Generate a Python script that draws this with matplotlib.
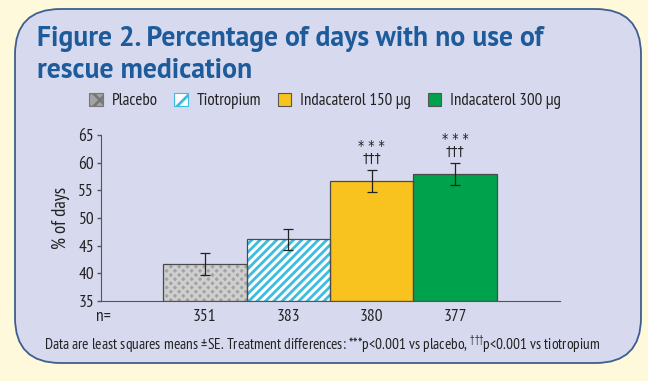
import matplotlib
matplotlib.use("Agg")
import matplotlib.pyplot as plt
from matplotlib.patches import FancyBboxPatch, Patch
import numpy as np

categories = ["Placebo", "Tiotropium", "Indacaterol 150 µg", "Indacaterol 300 µg"]
values = [41.7, 46.15, 56.7, 57.95]
se = [2.0, 1.95, 2.0, 2.0]
n_values = ["351", "383", "380", "377"]
sig_labels = ["", "", "* * *\n†††", "* * *\n†††"]
yticks = [35, 40, 45, 50, 55, 60, 65]

plt.rcParams['font.family'] = ['PT Sans Narrow', 'DejaVu Sans']
plt.rcParams['mathtext.fontset'] = 'custom'
plt.rcParams['mathtext.rm'] = 'PT Sans Narrow'

W, H = 6.48, 3.81
fig = plt.figure(figsize=(W, H), dpi=100)
fig.patch.set_facecolor('#FFF9DC')

def fx(px):
    return px / 648.0
def fy(py):
    return 1 - py / 381.0

panel = FancyBboxPatch((fx(15), fy(363)), fx(641) - fx(15), fy(9) - fy(363),
                       boxstyle="round,pad=0,rounding_size=0.07",
                       transform=fig.transFigure, facecolor='#D7D9EE',
                       edgecolor='#3E5E8E', linewidth=1.3, zorder=-5,
                       mutation_aspect=648/381)
fig.patches.append(panel)

title_font = ['PT Sans', 'DejaVu Sans']
t1 = fig.text(fx(37), fy(46.5), "Figure 2. Percentage of days with no use of",
              fontsize=20, fontweight='bold', color='#1D5B9B', va='baseline', ha='left',
              family=title_font)
t2 = fig.text(fx(37), fy(78.5), "rescue medication",
              fontsize=20, fontweight='bold', color='#1D5B9B', va='baseline', ha='left',
              family=title_font)

ax = fig.add_axes([fx(101), fy(301), fx(560) - fx(101), fy(135) - fy(301)])
ax.set_facecolor('none')
ax.set_zorder(2)

x = np.arange(1, len(categories) + 1)
faces = ['#A3A3A3', 'white', '#F9C31F', '#00A24B']
hatch_colors = ['#CFCFCF', '#3DBCE0', None, None]
hatches = ['xxxx', '////', None, None]

plt.rcParams['hatch.linewidth'] = 2.0
for i in range(len(categories)):
    if hatches[i]:
        ax.bar(x[i], values[i] - 35, bottom=35, width=1.0, color=faces[i],
               hatch=hatches[i], edgecolor=hatch_colors[i], linewidth=0, zorder=2)
    else:
        ax.bar(x[i], values[i] - 35, bottom=35, width=1.0, color=faces[i],
               linewidth=0, zorder=2)
    ax.bar(x[i], values[i] - 35, bottom=35, width=1.0, facecolor='none',
           edgecolor='#4A4A4A', linewidth=0.9, zorder=3)

ax.errorbar(x, values, yerr=se, fmt='none', ecolor='#222222', elinewidth=0.9,
            capsize=3.5, capthick=0.9, zorder=4)

for i in range(len(categories)):
    if sig_labels[i]:
        ax.text(x[i], values[i] + se[i] + 0.8, sig_labels[i], ha='center', va='bottom',
                fontsize=10, color='#222222', linespacing=0.85,
                family=['DejaVu Sans'], stretch='condensed')

ax.set_xlim(-0.245, 5.257)
ax.set_ylim(35, 65)
ax.set_yticks(yticks)
ax.set_yticklabels([str(t) for t in yticks], fontsize=12.5, color='#222222')
ax.set_xticks([])
for s in ['top', 'right']:
    ax.spines[s].set_visible(False)
ax.spines['left'].set_color('#555555')
ax.spines['bottom'].set_color('#555555')
ax.tick_params(axis='y', direction='out', length=3, width=1, color='#555555', pad=2)
ax.set_ylabel("% of days", fontsize=13.5, color='#222222', labelpad=6)

ax.text(-0.3, 33.5, "n=", ha='left', va='top', fontsize=12.5,
        color='#222222', clip_on=False)
for i in range(len(categories)):
    ax.text(x[i], 33.5, n_values[i], ha='center', va='top', fontsize=12.5,
            color='#222222', clip_on=False)

legend_edges = ['#777777', '#3DBCE0', '#555555', '#555555']
legend_hatch = ['xx', '//', None, None]
handles = [Patch(facecolor=faces[i], edgecolor=legend_edges[i],
                 hatch=legend_hatch[i], linewidth=0.8) for i in range(len(categories))]
leg = fig.legend(handles, categories, loc='center', bbox_to_anchor=(fx(325), fy(101)),
                 ncol=4, frameon=False, fontsize=12.2, handlelength=0.8,
                 handleheight=0.8, handletextpad=0.5, columnspacing=1.0)
for t in leg.get_texts():
    t.set_color('#222222')

foot = fig.text(fx(322), fy(344),
                "Data are least squares means \u00b1SE. Treatment differences: ***p<0.001 vs placebo, "
                "$^{\u2020\u2020\u2020}$p<0.001 vs tiotropium",
                ha='center', va='center', fontsize=10.5, color='#222222')

# fit text widths to the reference layout
fig.canvas.draw()
r = fig.canvas.get_renderer()
w1 = t1.get_window_extent(r).width
s = 20 * 506.0 / w1
t1.set_fontsize(s)
t2.set_fontsize(s)
wf = foot.get_window_extent(r).width
foot.set_fontsize(10.5 * 557.0 / wf)

fig.savefig("out.png", dpi=100, facecolor=fig.get_facecolor())
